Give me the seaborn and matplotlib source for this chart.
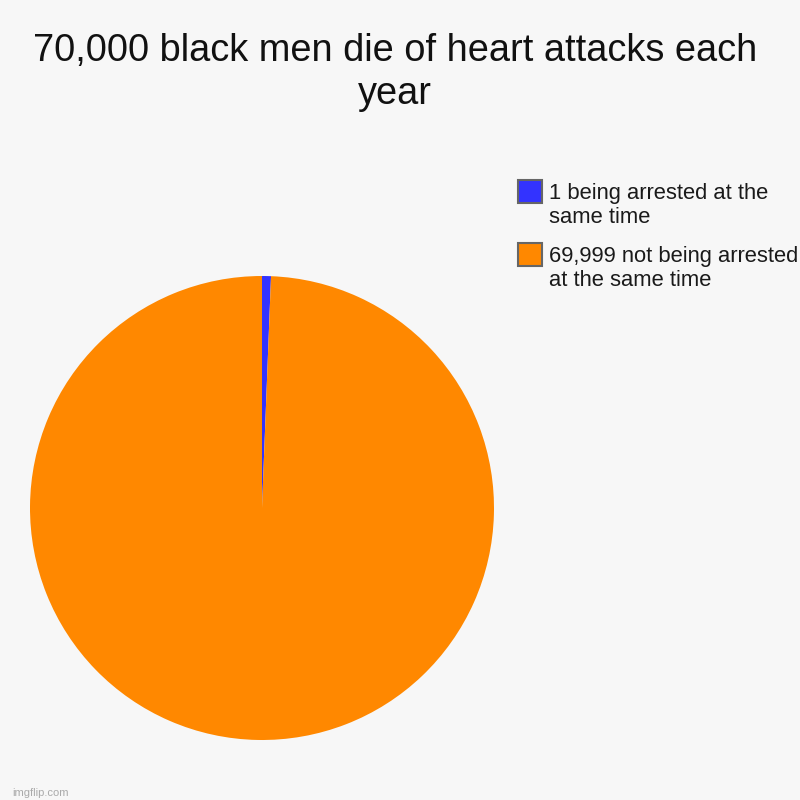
import matplotlib
matplotlib.use('Agg')
from matplotlib import pyplot as plt
from matplotlib.patches import Rectangle
import seaborn as sns

# chart data
title = '70,000 black men die of heart attacks each\nyear'
labels = ['1 being arrested at the\nsame time', '69,999 not being arrested\nat the same time']
# slice shares as drawn in the picture (the tiny slice is shown wider than 1/70000)
shares = [0.62, 99.38]
colors = ['#3333ff', '#ff8800']

sns.set_theme(style='white')
plt.rcParams['font.family'] = ['Liberation Sans', 'DejaVu Sans']

W = H = 800
fig = plt.figure(figsize=(8, 8), dpi=100, facecolor='#f7f7f7')

# pie axes, placed in pixels
ax = fig.add_axes([30 / W, 60 / H, 464 / W, 464 / H])
ax.set_facecolor('#f7f7f7')
ax.pie(shares, colors=colors, startangle=90, counterclock=False,
       wedgeprops={'linewidth': 0})
ax.set_xlim(-1, 1)
ax.set_ylim(-1, 1)
ax.set_aspect('equal')
ax.axis('off')

fig.text(0.494, 1 - 33 / H, title, ha='center', va='top', fontsize=27.4,
         color='#111111', linespacing=1.25)

# legend drawn by hand so the box sits next to the first line
for i, (lab, col) in enumerate(zip(labels, colors)):
    top = 180 + i * 63
    fig.patches.append(Rectangle((518 / W, 1 - (top + 23) / H), 24 / W, 23 / H,
                                 transform=fig.transFigure, facecolor=col,
                                 edgecolor='#666666', linewidth=1.5))
    fig.text(549 / W, 1 - (top + 3) / H, lab, ha='left', va='top', fontsize=15.8,
             color='#1a1a1a', linespacing=1.17)

fig.text(12 / W, 1 - 796 / H, 'imgflip.com', fontsize=8, color='#aaaaaa')

fig.savefig('out.png', dpi=100, facecolor=fig.get_facecolor())
